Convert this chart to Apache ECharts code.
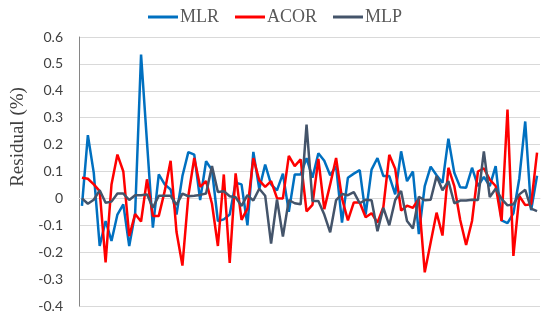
<!DOCTYPE html>
<html>
<head>
<meta charset="utf-8">
<script src="https://cdn.jsdelivr.net/npm/echarts@6/dist/echarts.min.js"></script>
<style>html,body{margin:0;padding:0;background:#fff}#c{width:550px;height:320px}</style>
</head>
<body>
<div id="c"></div>
<script>
var seriesNames = ['MLR', 'ACOR', 'MLP'];
var yTicks = { min: -0.4, max: 0.6, step: 0.1 };
var yAxisTitle = 'Residual (%)';

var mlr = [-0.028, 0.235, 0.095, -0.177, -0.084, -0.158, -0.06, -0.022, -0.177, -0.055,
  0.535, 0.21, -0.109, 0.089, 0.052, 0.033, -0.06, 0.083, 0.172, 0.163,
  -0.006, 0.138, 0.105, -0.084, -0.078, -0.06, 0.058, 0.052, -0.10, 0.173,
  0.035, 0.126, 0.052, 0.03, 0.092, -0.05, 0.089, 0.089, 0.15, 0.077,
  0.168, 0.14, 0.086, 0.12, -0.09, 0.077, 0.092, 0.105, -0.06, 0.107,
  0.15, 0.083, 0.083, 0.015, 0.175, 0.064, 0.1, -0.133, 0.046, 0.118,
  0.086, 0.058, 0.222, 0.095, 0.041, 0.04, 0.114, 0.046, 0.08, 0.046,
  0.12, -0.082, -0.092, -0.056, 0.074, 0.286, -0.044, 0.084];

var acor = [0.077, 0.073, 0.052, 0.027, -0.238, 0.052, 0.163, 0.10, -0.14, -0.058,
  -0.086, 0.071, -0.065, -0.065, 0.027, 0.14, -0.125, -0.25, 0.009, 0.15,
  0.043, 0.064, -0.02, -0.177, 0.089, -0.24, 0.093, -0.08, -0.038, 0.15,
  0.067, 0.043, 0.064, 0.001, 0.0, 0.158, 0.12, 0.145, -0.048, -0.024,
  0.147, -0.04, 0.052, 0.15, 0.0, -0.082, -0.015, -0.015, -0.07, -0.055,
  -0.09, -0.032, 0.162, 0.11, -0.045, -0.027, -0.035, -0.002, -0.275, -0.164,
  -0.053, -0.138, 0.114, 0.046, -0.08, -0.173, -0.084, 0.1, 0.112, 0.07,
  0.046, -0.084, 0.33, -0.214, 0.009, -0.025, -0.022, 0.17];

var mlp = [0.0, -0.02, -0.005, 0.03, -0.016, -0.012, 0.018, 0.018, -0.006, 0.012,
  0.012, 0.015, -0.035, 0.01, 0.01, 0.01, -0.024, 0.018, 0.008, 0.01,
  0.013, 0.018, 0.12, 0.024, 0.027, 0.008, 0.004, -0.028, 0.012, -0.008,
  0.036, 0.01, -0.168, -0.004, -0.142, -0.006, -0.018, -0.022, 0.274, -0.01,
  -0.01, -0.06, -0.126, -0.006, 0.016, 0.012, 0.023, -0.018, -0.005, -0.007,
  -0.122, -0.035, -0.1, -0.006, 0.028, -0.084, -0.112, 0.006, -0.007, -0.005,
  0.083, 0.03, 0.064, -0.018, -0.008, -0.008, -0.005, -0.006, 0.175, 0.005,
  0.036, -0.002, -0.026, -0.022, 0.015, 0.032, -0.038, -0.047];

var categories = mlr.map(function (_, i) { return String(i + 1); });
var colors = ['#0070C0', '#FF0000', '#44546A'];
var dataSets = [mlr, acor, mlp];

var chart = echarts.init(document.getElementById('c'), null, { renderer: 'canvas' });
chart.setOption({
  animation: false,
  backgroundColor: '#ffffff',
  color: colors,
  grid: { left: 79, right: 10, top: 37, bottom: 14, containLabel: false },
  legend: {
    data: seriesNames,
    top: 3,
    left: 'center',
    icon: 'rect',
    itemWidth: 30,
    itemHeight: 3,
    itemGap: 16,
    textStyle: { fontFamily: 'Liberation Serif', fontSize: 18, color: '#595959', padding: [0, 0, 0, -3] }
  },
  graphic: [{
    type: 'text',
    x: 18, y: 137,
    rotation: Math.PI / 2,
    style: {
      text: yAxisTitle,
      fontFamily: 'Liberation Serif',
      fontSize: 19,
      fill: '#404040',
      textAlign: 'center',
      textVerticalAlign: 'middle'
    }
  }],
  xAxis: {
    type: 'category',
    data: categories,
    boundaryGap: true,
    axisLine: { onZero: true, lineStyle: { color: '#d9d9d9', width: 1 } },
    axisTick: { show: false },
    axisLabel: { show: false },
    splitLine: { show: false }
  },
  yAxis: {
    type: 'value',
    min: yTicks.min,
    max: yTicks.max,
    interval: yTicks.step,
    axisLine: { show: true, lineStyle: { color: '#868686', width: 1 } },
    axisTick: { show: false },
    axisLabel: {
      margin: 16,
      fontFamily: 'Lato',
      fontSize: 14,
      color: '#404040',
      formatter: function (v) { return String(Math.round(v * 10) / 10); }
    },
    splitLine: { show: true, lineStyle: { color: '#d9d9d9', width: 1 } }
  },
  series: seriesNames.map(function (name, k) {
    return {
      name: name,
      type: 'line',
      data: dataSets[k],
      symbol: 'none',
      smooth: false,
      lineStyle: { width: 2.5, color: colors[k] },
      itemStyle: { color: colors[k] },
      z: 2 + k
    };
  })
});
</script>
</body>
</html>
